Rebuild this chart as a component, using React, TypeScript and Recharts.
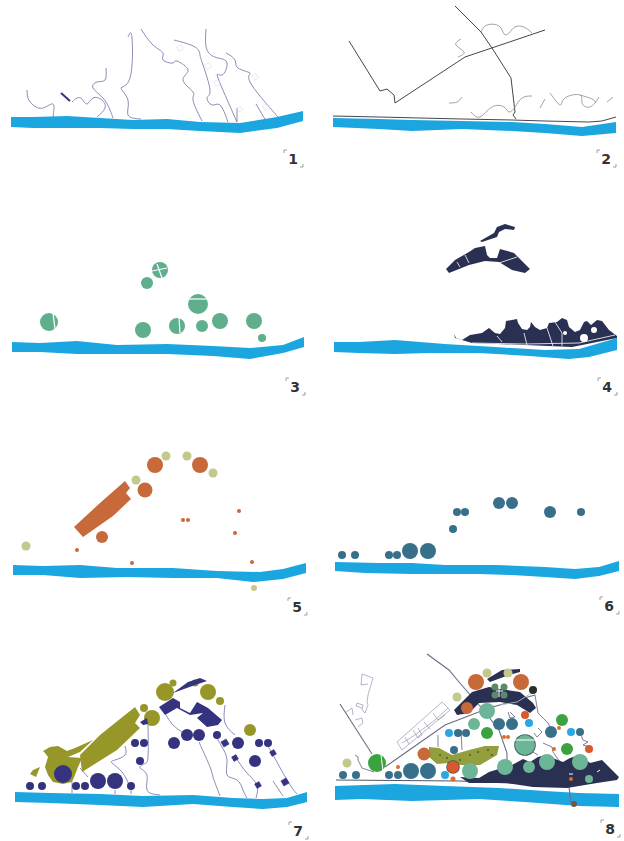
import React from 'react';
import { ScatterChart, Scatter, XAxis, YAxis } from 'recharts';

type P = number[];

const river1: P[] = [[11,117],[33,117],[67,116],[100,118],[133,120],[167,119],[200,122],[240,123],[277,117],[303,111],[303,121],[277,128],[240,133],[200,131],[167,129],[133,129],[100,128],[67,128],[33,128],[11,127]];
const river2: P[] = [[333,118],[379,119],[412,120],[462,121],[512,122],[545,124],[582,127],[616,122],[616,133],[582,136],[545,133],[512,131],[462,129],[412,131],[379,129],[333,127]];
const river3: P[] = [[12,342],[40,343],[77,341],[117,345],[167,344],[213,346],[250,348],[283,345],[304,337],[304,347],[283,353],[250,359],[213,356],[167,354],[127,354],[77,354],[40,352],[12,352]];
const river4: P[] = [[334,342],[359,342],[395,340],[445,344],[495,347],[545,350],[579,349],[617,338],[617,350],[589,357],[569,359],[529,356],[479,353],[429,353],[395,354],[359,353],[334,352]];
const river5: P[] = [[13,565],[43,566],[80,565],[117,568],[173,568],[217,571],[260,572],[283,569],[306,563],[306,573],[283,579],[253,582],[217,578],[173,578],[127,577],[80,578],[43,575],[13,575]];
const river6: P[] = [[335,562],[379,563],[412,563],[445,565],[495,565],[545,567],[575,569],[599,567],[619,561],[619,571],[599,576],[575,579],[545,577],[512,575],[479,574],[412,574],[365,573],[335,571]];
const river7: P[] = [[15,792],[50,793],[100,794],[143,796],[193,795],[233,798],[263,799],[287,798],[307,792],[307,802],[287,807],[263,809],[233,807],[193,804],[143,807],[100,805],[50,803],[15,802]];
const river8: P[] = [[335,786],[395,784],[445,786],[499,788],[545,791],[579,793],[619,794],[619,807],[579,806],[525,802],[479,799],[412,801],[362,799],[335,800]];
const rivers = [river1, river2, river3, river4, river5, river6, river7, river8];

// panel 1
const paths1: P[][] = [
  [[27,90],[28,98],[33,105],[43,108],[53,104],[53,117]],
  [[72,102],[77,98],[82,99],[87,104],[93,98],[102,100],[105,108],[97,117]],
  [[106,68],[105,80],[97,82],[93,88],[103,98],[110,110],[113,118]],
  [[128,37],[132,38],[130,78],[121,88],[128,100],[128,115],[141,119]],
  [[141,29],[153,45],[163,53],[163,60],[173,63],[177,61],[188,70],[183,80],[193,92],[193,100],[202,121]],
  [[174,40],[195,47],[200,55],[203,65],[210,90],[207,98],[212,105],[220,105],[228,122]],
  [[206,29],[207,50],[218,58],[227,63],[222,75],[218,78],[237,122]],
  [[237,108],[237,122]],
  [[226,53],[235,60],[238,68],[250,73],[250,82],[278,117]],
  [[256,104],[266,121]],
];
const stub1: P[] = [[61,93],[70,101]];
const plots1: P[] = [[180,48,2.5],[208,66,2.5],[217,83,2.5],[240,109,2],[266,107,2.5],[255,77,2.5]];

// panel 2
const roads2: P[][] = [
  [[349,41],[380,91],[387,89],[394,95],[395,103],[465,57],[545,30]],
  [[455,6],[481,32],[492,48],[511,78],[515,112],[513,115],[516,119]],
  [[333,116],[379,117],[462,119],[512,120],[545,121],[589,122],[602,121],[616,117]],
];
const wiggles2: P[][] = [
  [[481,32],[487,25],[499,26],[504,34],[509,33],[515,27],[524,27],[532,33]],
  [[461,39],[456,45],[464,52],[458,57]],
  [[449,103],[457,102],[462,97]],
  [[471,112],[480,117],[492,107],[504,107],[509,112],[515,107],[522,98],[532,96]],
  [[540,108],[545,99]],
  [[550,93],[560,105],[565,98],[580,95],[582,103],[590,107],[599,97]],
  [[580,95],[592,99],[596,103]],
  [[607,102],[613,97]],
];

// panel 3
const circles3: P[] = [[49,322,9],[160,270,8],[147,283,6],[198,304,10],[143,330,8],[177,326,8],[202,326,6],[220,321,8],[254,321,8],[262,338,4]];
const gaps3: P[][] = [
  [[53,313],[55,329]],
  [[157,264],[162,278]],
  [[152,271],[167,268]],
  [[179,318],[180,333]],
  [[188,299],[208,299]],
];

// panel 4
const dark4: P[][] = [
  [[480,241],[494,233],[497,227],[505,224],[515,227],[514,230],[505,229],[499,232],[497,237],[482,242]],
  [[446,269],[455,260],[469,252],[475,248],[485,246],[487,255],[490,258],[497,258],[500,249],[514,253],[530,269],[525,273],[512,270],[499,262],[485,261],[469,265],[449,273]],
  [[454,334],[456,338],[462,340],[470,335],[482,333],[489,328],[495,333],[500,334],[505,328],[506,321],[517,319],[518,323],[522,329],[527,330],[530,327],[531,322],[535,327],[540,330],[547,328],[549,323],[557,322],[562,318],[567,320],[569,327],[575,332],[580,330],[584,322],[587,321],[591,325],[597,320],[602,321],[609,330],[617,336],[617,338],[572,347],[525,345],[472,343],[455,338]],
];
const gaps4: P[][] = [
  [[465,255],[469,263]],
  [[457,262],[460,267]],
  [[499,263],[517,257]],
  [[472,343],[525,344],[579,343],[615,335]],
  [[524,333],[527,345]],
  [[547,328],[553,346]],
  [[555,322],[562,333],[562,346]],
  [[497,336],[502,342]],
];
const holes4: P[] = [[584,338,4],[594,330,3],[565,333,2]];

// panel 5
const slab5: P[] = [[125,481],[130,488],[126,493],[131,499],[113,516],[83,537],[74,527],[100,503]];
const orange5: P[] = [[155,465,8],[200,465,8],[145,490,7.5],[102,537,6],[77,550,2],[132,563,2],[183,520,2],[188,520,2],[239,511,2],[235,533,2],[252,562,2]];
const pale5: P[] = [[166,456,4.5],[187,456,4.5],[213,473,4.5],[136,480,4.5],[26,546,4.5],[254,588,3]];

// panel 6
const teal6: P[] = [[342,555,4],[355,555,4],[389,555,4],[397,555,4],[410,551,8],[428,551,8],[453,529,4],[457,512,4],[465,512,4],[499,503,6],[512,503,6],[550,512,6],[581,512,4]];

// panel 7
const paths7: P[][] = [
  [[72,782],[72,793]],
  [[80,768],[88,777]],
  [[115,790],[115,794]],
  [[131,790],[131,794]],
  [[125,746],[125,755],[115,760],[112,763],[122,772],[130,787]],
  [[148,725],[148,757],[144,764],[140,768],[147,775],[147,790],[160,795]],
  [[166,715],[173,725],[182,732]],
  [[199,742],[210,767],[213,777],[220,796]],
  [[217,738],[222,747],[227,760],[227,775],[237,780],[243,790],[247,798]],
  [[225,705],[225,723],[235,735]],
  [[236,758],[247,773],[257,785],[256,798]],
  [[268,747],[272,753],[287,780],[297,794]],
  [[273,781],[283,796]],
];
const olive7Shapes: P[][] = [
  [[43,751],[50,747],[58,746],[67,751],[75,748],[93,740],[80,752],[68,757],[82,758],[78,767],[75,775],[72,782],[63,784],[53,782],[48,775],[45,767],[48,757],[45,753]],
  [[40,767],[36,777],[30,774],[33,770]],
  [[135,707],[140,715],[135,723],[140,728],[117,750],[82,772],[80,755],[100,735]],
];
const olive7: P[] = [[165,692,9],[208,692,8],[220,701,4],[250,730,6],[152,718,8],[144,708,4],[173,683,3.5],[195,683,3.5]];
const purple7Shapes: P[][] = [
  [[200,678],[207,681],[195,685],[173,693],[188,682]],
  [[159,707],[173,698],[180,702],[180,708],[190,713],[197,702],[208,708],[222,720],[218,725],[207,727],[197,718],[203,713],[190,715],[177,708],[165,715]],
  [[140,722],[147,718],[148,724],[143,725]],
];
const purple7: P[] = [[30,786,4],[42,786,4],[76,786,4],[85,786,4],[98,781,8],[115,781,8],[131,786,4],[63,774,9],[140,761,4],[135,743,4],[144,743,4],[174,743,6],[187,735,6],[199,735,6],[217,735,4],[238,743,6],[259,743,4],[268,743,4],[255,761,6]];
const plots7: P[] = [[225,743,3],[235,758,2.5],[273,753,2.5],[258,785,2.5],[285,782,3]];

// panel 8
const shore8: P[] = [[336,780],[459,781],[512,783]];
const roads8: P[][] = [
  [[427,654],[449,670],[459,682],[485,712],[499,730],[507,753],[507,783]],
  [[340,704],[372,754]],
  [[385,767],[395,760],[445,725],[458,720],[489,708],[535,695]],
  [[569,787],[571,803]],
];
const plans8: P[][] = [
  [[397,742],[442,702],[450,710],[402,750],[397,742]],
  [[405,737],[409,744]],
  [[413,730],[418,738],[422,735],[418,728]],
  [[424,722],[430,729]],
  [[433,713],[438,720],[445,715]],
  [[402,743],[415,735],[435,720],[448,708]],
  [[362,674],[373,678],[368,695],[367,702],[368,705],[365,713],[362,710],[363,705],[357,703],[356,706],[362,708]],
  [[362,674],[361,685],[368,684]],
  [[345,713],[352,708],[353,715]],
  [[355,720],[362,718],[363,723],[358,727]],
];
const paths8: P[][] = [
  [[355,755],[358,757],[358,760],[362,768],[374,772]],
  [[438,735],[438,747]],
  [[461,730],[462,750]],
  [[535,695],[538,713],[548,723],[550,727]],
  [[538,728],[542,732],[537,737],[534,733]],
  [[543,743],[552,747],[553,752],[560,762]],
  [[580,732],[583,740],[588,742],[583,745],[590,747]],
  [[533,752],[538,755]],
  [[510,712],[515,717],[510,718],[508,712]],
];
const navy8: P[][] = [
  [[460,777],[479,778],[489,772],[512,765],[523,759],[530,762],[538,757],[545,755],[563,762],[570,758],[580,755],[590,763],[602,760],[619,777],[617,780],[597,783],[567,788],[533,787],[507,783],[469,783]],
  [[454,710],[472,692],[489,687],[507,690],[520,692],[533,703],[536,708],[530,713],[517,705],[500,702],[479,703],[469,713],[457,715]],
  [[487,679],[502,670],[520,669],[520,672],[509,675],[490,682]],
];
const crossRoad8: P[] = [[500,705],[517,702],[535,691]];
const meadow8: P[] = [[429,747],[439,748],[452,755],[469,750],[485,746],[499,746],[497,755],[480,765],[459,765],[449,763],[437,764],[429,757]];
const specks8: P[] = [[440,755,0.8],[447,758,0.8],[460,760,0.8],[470,755,0.8],[478,752,0.8],[488,750,0.8],[492,755,0.8],[455,752,0.8]];
const orange8: P[] = [[476,682,8],[521,682,8],[424,754,6.5],[467,708,6]];
const pale8: P[] = [[487,673,4.5],[508,673,4.5],[457,697,4.5],[347,763,4.5]];
const sage8: P[] = [[495,687,3.5],[504,687,3.5],[495,695,3.5],[504,695,3.5]];
const black8: P[] = [[533,690,4]];
const green8: P[] = [[377,763,9],[487,733,6],[562,720,6],[567,749,6]];
const rings8: P[] = [[525,745,10.8],[453,767,6.8]];
const mint8: P[] = [[487,711,8],[474,724,6],[525,745,10],[470,771,8],[505,767,8],[529,767,6],[547,762,8],[580,762,8],[589,779,4]];
const teal8: P[] = [[343,775,4],[356,775,4],[389,775,4],[398,775,4],[411,771,8],[428,771,8],[454,750,4],[458,733,4],[466,733,4],[499,724,6],[512,724,6],[551,732,6],[580,732,4]];
const cyan8: P[] = [[449,733,4],[529,723,4],[571,732,4],[445,775,4]];
const red8: P[] = [[453,767,6],[525,715,4],[589,749,4]];
const small8: P[] = [[398,767,2],[453,779,2.5],[504,737,2],[508,737,2],[559,728,2],[554,749,2],[571,779,2]];
const brown8: P[] = [[574,804,3]];
const gaps8: P[][] = [
  [[381,755],[383,771]],
  [[515,740],[535,740]],
  [[496,691],[503,691]],
  [[499,685],[499,697]],
  [[569,774],[573,774]],
  [[597,772],[600,770]],
];

const panelLabels = ['1', '2', '3', '4', '5', '6', '7', '8'];
const labelSpots: P[] = [[293,159],[606,159],[295,387],[607,387],[297,607],[609,606],[298,831],[610,829]];

const BLUE = '#1ba6e0';
const LINE = '#6f6ea8';
const NAVY = '#2a3052';
const INDIGO = '#35337f';
const OLIVE = '#979628';
const TEAL = '#38708c';
const ORANGE = '#c8693a';
const PALE = '#c4c98b';

const toPts = (a: P[]) => a.map(([x, y, r]) => ({ x, y, r }));
const noDot = () => <g />;

const poly = (d: P[], fill: string, key: string) => (
  <Scatter key={key} data={toPts(d)} line={{ stroke: 'none', fill }} shape={noDot} isAnimationActive={false} />
);
const path = (d: P[], stroke: string, width: number, key: string) => (
  <Scatter key={key} data={toPts(d)} line={{ stroke, strokeWidth: width, fill: 'none' }} shape={noDot} isAnimationActive={false} />
);
const curve = (d: P[], stroke: string, width: number, key: string) => (
  <Scatter
    key={key}
    data={toPts(d)}
    line={{ stroke, strokeWidth: width, fill: 'none' }}
    lineJointType="natural"
    shape={noDot}
    isAnimationActive={false}
  />
);
const dots = (d: P[], fill: string, key: string) => (
  <Scatter
    key={key}
    data={toPts(d)}
    isAnimationActive={false}
    shape={(p: any) => <circle cx={p.cx} cy={p.cy} r={p.payload.r} fill={fill} />}
  />
);
const squares = (d: P[], fill: string, stroke: string, key: string) => (
  <Scatter
    key={key}
    data={toPts(d)}
    isAnimationActive={false}
    shape={(p: any) => {
      const r = p.payload.r;
      return <rect x={p.cx - r} y={p.cy - r} width={r * 2} height={r * 2} fill={fill} stroke={stroke} strokeWidth={0.5} transform={`rotate(-30 ${p.cx} ${p.cy})`} />;
    }}
  />
);

const labelData = labelSpots.map(([x, y], i) => ({ x, y, name: panelLabels[i] }));

const PanelLabel = (p: any) => (
  <g>
    <text x={p.cx} y={p.cy + 5} textAnchor="middle" fontFamily="DejaVu Sans" fontWeight="bold" fontSize={14} fill="#333336">
      {p.payload.name}
    </text>
    <path d={`M${p.cx - 9} ${p.cy - 6}v-3h3`} stroke="#777" strokeWidth={0.7} fill="none" />
    <path d={`M${p.cx + 10} ${p.cy + 5}v3h-3`} stroke="#777" strokeWidth={0.7} fill="none" />
  </g>
);

export default function App() {
  return (
    <div style={{ position: 'absolute', left: 0, top: 0, width: 624, height: 841, background: '#fff' }}>
      <ScatterChart width={624} height={841} margin={{ top: 0, right: 0, bottom: 0, left: 0 }}>
        <XAxis type="number" dataKey="x" domain={[0, 624]} hide />
        <YAxis type="number" dataKey="y" domain={[0, 841]} reversed hide />

        {rivers.map((r, i) => poly(r, BLUE, `river${i}`))}

        {paths1.map((d, i) => curve(d, LINE, 0.8, `p1-${i}`))}
        {path(stub1, INDIGO, 2, 'stub1')}
        {squares(plots1, 'none', '#d8d8e4', 'sq1')}

        {roads2.map((d, i) => path(d, '#45454f', 1, `r2-${i}`))}
        {wiggles2.map((d, i) => curve(d, '#8a8a90', 0.8, `w2-${i}`))}

        {dots(circles3, '#5fae8c', 'c3')}
        {gaps3.map((d, i) => path(d, '#fff', 1.2, `g3-${i}`))}

        {dark4.map((d, i) => poly(d, NAVY, `d4-${i}`))}
        {gaps4.map((d, i) => path(d, '#e8e8ee', 0.9, `g4-${i}`))}
        {dots(holes4, '#fff', 'h4')}

        {poly(slab5, ORANGE, 'slab5')}
        {dots(orange5, ORANGE, 'o5')}
        {dots(pale5, PALE, 'pa5')}

        {dots(teal6, TEAL, 't6')}

        {paths7.map((d, i) => curve(d, LINE, 0.8, `p7-${i}`))}
        {olive7Shapes.map((d, i) => poly(d, OLIVE, `os7-${i}`))}
        {dots(olive7, OLIVE, 'ol7')}
        {purple7Shapes.map((d, i) => poly(d, INDIGO, `ps7-${i}`))}
        {dots(purple7, INDIGO, 'pu7')}
        {squares(plots7, INDIGO, INDIGO, 'sq7')}

        {path(shore8, '#54546e', 1.2, 'shore8')}
        {roads8.map((d, i) => path(d, '#6c6c86', 1.1, `r8-${i}`))}
        {plans8.map((d, i) => path(d, '#8d7fa8', 0.6, `pl8-${i}`))}
        {paths8.map((d, i) => path(d, '#4a4a66', 0.7, `pa8-${i}`))}
        {navy8.map((d, i) => poly(d, NAVY, `n8-${i}`))}
        {path(crossRoad8, '#b9b9c6', 0.9, 'cross8')}
        {poly(meadow8, '#929f3c', 'meadow8')}
        {dots(specks8, '#2a2a20', 'sp8')}
        {dots(orange8, ORANGE, 'or8')}
        {dots(pale8, PALE, 'pale8')}
        {dots(sage8, '#5b8a68', 'sa8')}
        {dots(black8, '#26302a', 'bk8')}
        {dots(green8, '#3aa33f', 'gr8')}
        {dots(rings8, '#3e5a5c', 'ri8')}
        {dots(mint8, '#6cb596', 'mi8')}
        {dots(teal8, TEAL, 'te8')}
        {dots(cyan8, '#2aa7e0', 'cy8')}
        {dots(red8, '#d9582c', 're8')}
        {dots(small8, '#d9702c', 'sm8')}
        {dots(brown8, '#6b5a48', 'br8')}
        {gaps8.map((d, i) => path(d, '#fff', 1, `g8-${i}`))}

        <Scatter data={labelData} shape={PanelLabel} isAnimationActive={false} />
      </ScatterChart>
    </div>
  );
}
